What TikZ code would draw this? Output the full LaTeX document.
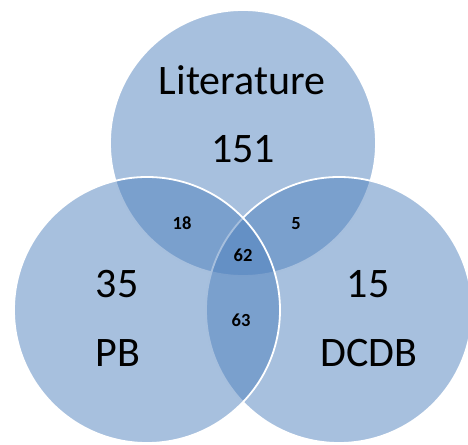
\documentclass[tikz,border=0pt]{standalone}
\usepackage{fontspec}
\setmainfont{Carlito}
\begin{document}
\begin{tikzpicture}[x=1pt,y=1pt,
  setcircle/.style={circle, inner sep=0pt, minimum size=266pt,
    fill={rgb,255:red,79;green,129;blue,189}, fill opacity=0.5,
    draw=white, draw opacity=1, line width=1.8pt},
  bigtext/.style={anchor=base, inner sep=0pt, font=\fontsize{42}{46}\selectfont},
  smalltext/.style={anchor=base, inner sep=0pt, font=\fontsize{18.5}{20}\selectfont\bfseries}]
  \useasboundingbox (0,0) rectangle (468,444);
  \begin{scope}
    \clip (0,0) rectangle (468,444);
    % the three sets: Literature, DCDB, PB
    \node[setcircle] (lit)  at (243,301) {};
    \node[setcircle] (dcdb) at (339,134) {};
    \node[setcircle] (pb)   at (147,134) {};
  \end{scope}
  % set labels and counts
  \node[bigtext] (litname) at (242,349) {Literature};
  \node[bigtext] (litnum)  at (243,281) {151};
  \node[bigtext] (pbnum)   at (117,146) {35};
  \node[bigtext] (pbname)  at (118,77)  {PB};
  \node[bigtext] (dcnum)   at (368,146) {15};
  \node[bigtext] (dcname)  at (369,77)  {DCDB};
  % overlap counts
  \node[smalltext] (litpb)  at (182,214) {18};
  \node[smalltext] (litdc)  at (296,214) {5};
  \node[smalltext] (all)    at (243,182) {62};
  \node[smalltext] (pbdc)   at (241,117) {63};
\end{tikzpicture}
\end{document}
